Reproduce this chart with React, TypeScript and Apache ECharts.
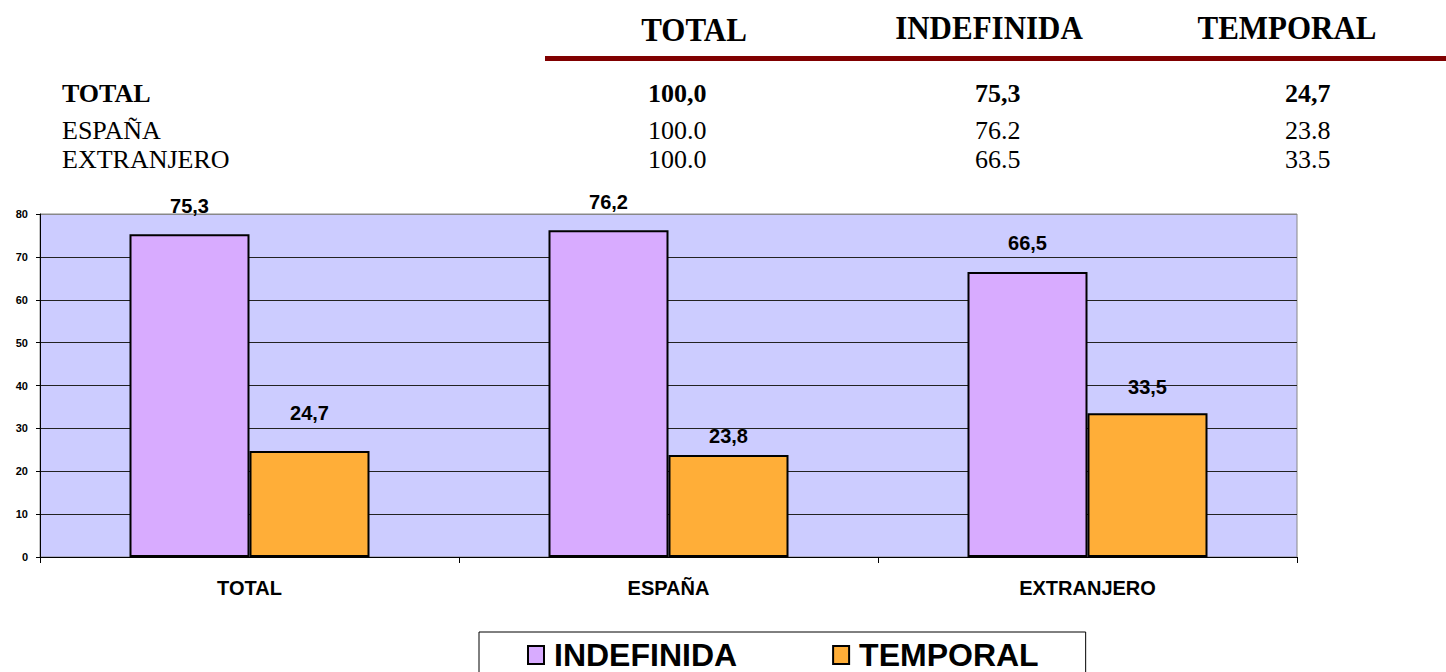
import React, { useEffect, useRef } from "react";
import * as echarts from "echarts";

const categories = ["TOTAL", "ESPAÑA", "EXTRANJERO"];
const indefinida = [75.3, 76.2, 66.5];
const temporal = [24.7, 23.8, 33.5];
const seriesNames = ["INDEFINIDA", "TEMPORAL"];

const tableHeaders = ["TOTAL", "INDEFINIDA", "TEMPORAL"];
const tableRowLabels = ["TOTAL", "ESPAÑA", "EXTRANJERO"];
const tableTotal = ["100,0", "100.0", "100.0"];
const tableIndefinida = ["75,3", "76.2", "66.5"];
const tableTemporal = ["24,7", "23.8", "33.5"];

const Y_MIN = 0;
const Y_MAX = 80;
const Y_INTERVAL = 10;

// label styling (distance above bar), not data
const labelDistIndef = [18, 18, 19];
const labelDistTemp = [28, 9, 16];

const SANS = '"Liberation Sans", Arial, sans-serif';
const SERIF = '"Liberation Serif", "Times New Roman", serif';

const fmt = (v: number) => v.toFixed(1).replace(".", ",");

export default function App() {
  const ref = useRef<HTMLDivElement>(null);
  useEffect(() => {
    if (!ref.current) return;
    const chart = echarts.init(ref.current, undefined, { renderer: "svg" });

    const headerX = [694, 989, 1287];
    const headerY = [29, 27, 27];
    const colX = [648, 975, 1285];
    const rowY = [93, 130, 159];

    const graphics: any[] = [];
    tableHeaders.forEach((h, i) => {
      graphics.push({
        type: "text",
        x: headerX[i],
        y: headerY[i],
        scaleY: 1.12,
        style: {
          text: h,
          x: 0,
          y: 0,
          align: "center",
          verticalAlign: "middle",
          textAlign: "center",
          textVerticalAlign: "middle",
          fontFamily: SERIF,
          fontSize: 31,
          fontWeight: "bold",
          fill: "#000",
        },
      });
    });
    graphics.push({
      type: "rect",
      shape: { x: 545, y: 56, width: 901, height: 5 },
      style: { fill: "#800000" },
    });
    const cols = [tableTotal, tableIndefinida, tableTemporal];
    tableRowLabels.forEach((lab, r) => {
      const bold = r === 0;
      const base = {
        fontFamily: SERIF,
        fontSize: 26,
        fontWeight: bold ? "bold" : "normal",
        fill: "#000",
        align: "left",
        verticalAlign: "middle",
        textAlign: "left",
        textVerticalAlign: "middle",
      };
      graphics.push({
        type: "text",
        style: { ...base, text: lab, x: 62, y: rowY[r] },
      });
      cols.forEach((col, c) => {
        graphics.push({
          type: "text",
          style: { ...base, text: col[r], x: colX[c], y: rowY[r] },
        });
      });
    });

    const splitColors: string[] = [];
    for (let v = Y_MIN; v <= Y_MAX; v += Y_INTERVAL) {
      splitColors.push(v === Y_MAX ? "#888888" : "#222222");
    }

    const barBase = {
      type: "bar",
      barWidth: 120,
      barGap: "0%",
      label: {
        show: true,
        position: "top",
        fontFamily: SANS,
        fontSize: 20,
        fontWeight: "bold",
        color: "#000",
        formatter: (p: any) => fmt(p.value),
      },
    };

    chart.setOption({
      animation: false,
      textStyle: { fontFamily: SANS },
      grid: {
        left: 40,
        right: 149,
        top: 214,
        bottom: 115,
        show: true,
        backgroundColor: "#CCCCFF",
        borderColor: "#888888",
        borderWidth: 1,
      },
      xAxis: {
        type: "category",
        data: categories,
        axisLine: { lineStyle: { color: "#000", width: 1 } },
        axisTick: { show: true, length: 6, lineStyle: { color: "#000" } },
        axisLabel: {
          fontFamily: SANS,
          fontSize: 20,
          fontWeight: "bold",
          color: "#000",
          margin: 21,
        },
      },
      yAxis: {
        type: "value",
        min: Y_MIN,
        max: Y_MAX,
        interval: Y_INTERVAL,
        axisLine: { show: true, lineStyle: { color: "#000", width: 1 } },
        axisTick: { show: true, length: 4, lineStyle: { color: "#000" } },
        axisLabel: {
          fontFamily: SANS,
          fontSize: 11,
          fontWeight: "bold",
          color: "#000",
          margin: 12,
        },
        splitLine: { show: true, lineStyle: { color: splitColors, width: 1 } },
      },
      legend: {
        left: 479,
        top: 632,
        orient: "horizontal",
        icon: "rect",
        itemWidth: 16,
        itemHeight: 18,
        itemGap: 95,
        padding: [7, 47, 40, 48],
        borderColor: "#000",
        borderWidth: 1,
        backgroundColor: "#fff",
        data: seriesNames,
        textStyle: {
          fontFamily: SANS,
          fontSize: 32,
          fontWeight: "bold",
          color: "#000",
          padding: [0, 0, 0, 5],
        },
      },
      series: [
        {
          ...barBase,
          name: seriesNames[0],
          itemStyle: { color: "#D8ABFF", borderColor: "#000", borderWidth: 2 },
          data: indefinida.map((v, i) => ({
            value: v,
            label: { distance: labelDistIndef[i] },
          })),
        },
        {
          ...barBase,
          name: seriesNames[1],
          itemStyle: { color: "#FFAE38", borderColor: "#000", borderWidth: 2 },
          data: temporal.map((v, i) => ({
            value: v,
            label: { distance: labelDistTemp[i] },
          })),
        },
      ],
      graphic: graphics,
    });

    return () => chart.dispose();
  }, []);

  return (
    <div
      ref={ref}
      style={{ position: "fixed", left: 0, top: 0, width: 1446, height: 672, background: "#fff" }}
    />
  );
}
